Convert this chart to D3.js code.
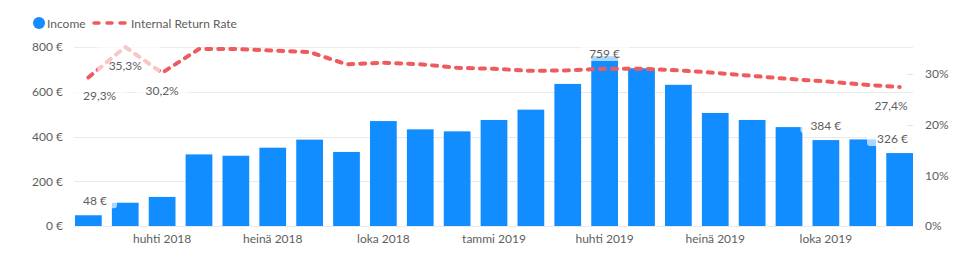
<!DOCTYPE html>
<html>
<head>
<meta charset="utf-8">
<script src="https://cdn.jsdelivr.net/npm/d3@7"></script>
<style>
  body { margin: 0; background: #fff; }
  svg { font-family: "Segoe UI", Lato, "Open Sans", sans-serif; }
</style>
</head>
<body>
<svg id="chart" width="976" height="259"></svg>
<script>
const months = ["2018-02", "2018-03", "2018-04", "2018-05", "2018-06", "2018-07", "2018-08",
  "2018-09", "2018-10", "2018-11", "2018-12", "2019-01", "2019-02", "2019-03", "2019-04",
  "2019-05", "2019-06", "2019-07", "2019-08", "2019-09", "2019-10", "2019-11", "2019-12"];
const income = [48, 104, 130, 320, 314, 350, 386, 331, 469, 432, 423, 474, 520, 635, 759,
  705, 631, 505, 474, 442, 384, 387, 326];
const irr = [29.3, 35.3, 30.2, 34.9, 34.9, 34.6, 34.3, 31.9, 32.2, 31.9, 31.2, 31.0, 30.6,
  30.7, 31.0, 31.0, 30.7, 30.2, 29.6, 29.0, 28.5, 27.9, 27.4];
const incomeTicks = [0, 200, 400, 600, 800];
const irrTicks = [0, 10, 20, 30];
const xTickMonths = ["2018-04", "2018-07", "2018-10", "2019-01", "2019-04", "2019-07", "2019-10"];
const xTickLabels = ["huhti 2018", "heinä 2018", "loka 2018", "tammi 2019", "huhti 2019", "heinä 2019", "loka 2019"];
const incomeLabelIdx = [0, 14, 20, 22];
const irrLabelIdx = [0, 1, 2, 22];

const blue = "#118DFF";
const red = "#EF5A5D";
const textColor = "#605E5C";

const svg = d3.select("#chart");
const plotLeft = 75, plotRight = 913, plotTop = 47, plotBottom = 226;

const x = d3.scaleBand().domain(months).range([plotLeft, plotRight]).paddingInner(0.275).paddingOuter(0);
const y = d3.scaleLinear().domain([0, 800]).range([plotBottom, plotTop]);
const y2 = d3.scaleLinear().domain([0, d3.max(irr)]).range([plotBottom, plotTop]);
const xc = (i) => x(months[i]) + x.bandwidth() / 2;

const fmtEur = (v) => `${v} €`;
const fmtPct = (v) => d3.format(".1f")(v).replace(".", ",") + "%";

// gridlines
svg.append("g")
  .selectAll("line")
  .data(incomeTicks)
  .join("line")
  .attr("x1", plotLeft - 1)
  .attr("x2", plotRight)
  .attr("y1", (d) => Math.round(y(d)) + 0.5)
  .attr("y2", (d) => Math.round(y(d)) + 0.5)
  .attr("stroke", "#EAEAEA");

svg.append("g")
  .selectAll("line")
  .data(irrTicks.slice(1))
  .join("line")
  .attr("x1", plotRight - 6)
  .attr("x2", plotRight)
  .attr("y1", (d) => Math.round(y2(d)) + 0.5)
  .attr("y2", (d) => Math.round(y2(d)) + 0.5)
  .attr("stroke", "#E4E4E4");

// axes
const yAxis = svg.append("g")
  .attr("transform", `translate(${plotLeft - 12},0)`)
  .call(d3.axisLeft(y).tickValues(incomeTicks).tickFormat(fmtEur).tickSize(0).tickPadding(0));
const y2Axis = svg.append("g")
  .attr("transform", `translate(${plotRight + 12},0)`)
  .call(d3.axisRight(y2).tickValues(irrTicks).tickFormat((d) => d + "%").tickSize(0).tickPadding(0));
const xAxis = svg.append("g")
  .attr("transform", `translate(0,${plotBottom + 6})`)
  .call(d3.axisBottom(x).tickValues(xTickMonths)
    .tickFormat((d) => xTickLabels[xTickMonths.indexOf(d)]).tickSize(0).tickPadding(0));

[yAxis, y2Axis, xAxis].forEach((g) => {
  g.select(".domain").remove();
  g.selectAll("text")
    .attr("fill", textColor)
    .style("font-size", "12px")
    .style("font-family", "\"Segoe UI\", Lato, sans-serif");
});
xAxis.selectAll("text").attr("dy", "0.9em");

// bars
svg.append("g")
  .selectAll("rect")
  .data(income)
  .join("rect")
  .attr("x", (d, i) => x(months[i]))
  .attr("y", (d) => y(d))
  .attr("width", x.bandwidth())
  .attr("height", (d) => plotBottom - y(d))
  .attr("fill", blue);

// IRR line
const line = d3.line()
  .x((d, i) => xc(i))
  .y((d) => y2(d));

svg.append("path")
  .datum(irr)
  .attr("d", line)
  .attr("fill", "none")
  .attr("stroke", red)
  .attr("stroke-width", 4)
  .attr("stroke-linecap", "round")
  .attr("stroke-linejoin", "round")
  .attr("stroke-dasharray", "5,7");

// data labels with semi-transparent backgrounds
const labels = svg.append("g");

function addLabel(text, cx, cy, extend) {
  const g = labels.append("g");
  const bg = g.append("rect").attr("fill", "#fff").attr("fill-opacity", 0.65).attr("rx", 3);
  const t = g.append("text")
    .attr("x", cx)
    .attr("y", cy)
    .attr("text-anchor", "middle")
    .attr("dominant-baseline", "central")
    .attr("fill", textColor)
    .style("font-size", "12px")
    .text(text);
  let b = t.node().getBBox();
  let shift = 0;
  if (b.x < plotLeft + 8) shift = plotLeft + 8 - b.x;
  if (b.x + b.width > plotRight - 5) shift = plotRight - 5 - (b.x + b.width);
  t.attr("x", cx + shift);
  b = t.node().getBBox();
  let x0 = b.x - 10, x1 = b.x + b.width + 10, y0 = cy - 8, y1 = cy + 8;
  if (extend) {
    x0 = Math.min(x0, extend.x0);
    x1 = Math.max(x1, extend.x1);
    y0 = Math.min(y0, extend.y0);
  }
  bg.attr("x", x0).attr("y", y0).attr("width", x1 - x0).attr("height", y1 - y0);
}

incomeLabelIdx.forEach((i) => {
  const cy = Math.max(y(income[i]) - 15, plotTop + 6);
  addLabel(fmtEur(income[i]), xc(i), cy);
});

const peak = irr.indexOf(d3.max(irr));
irrLabelIdx.forEach((i) => {
  const cy = y2(irr[i]) + 18;
  const extend = i === peak
    ? { x0: xc(i) - 28, x1: xc(i + 1) - 2, y0: y2(irr[i]) - 4 }
    : null;
  addLabel(fmtPct(irr[i]), xc(i), cy, extend);
});

// legend
const legend = svg.append("g").attr("transform", "translate(0,23)");
legend.append("circle").attr("cx", 39).attr("cy", 0).attr("r", 6).attr("fill", blue);
legend.append("text")
  .attr("x", 47).attr("y", 0)
  .attr("dominant-baseline", "central")
  .attr("fill", textColor)
  .style("font-size", "12px")
  .text("Income");
legend.append("line")
  .attr("x1", 94).attr("x2", 127).attr("y1", 0).attr("y2", 0)
  .attr("stroke", red)
  .attr("stroke-width", 3.5)
  .attr("stroke-linecap", "round")
  .attr("stroke-dasharray", "5,8");
legend.append("text")
  .attr("x", 131).attr("y", 0)
  .attr("dominant-baseline", "central")
  .attr("fill", textColor)
  .style("font-size", "12px")
  .text("Internal Return Rate");
</script>
</body>
</html>
